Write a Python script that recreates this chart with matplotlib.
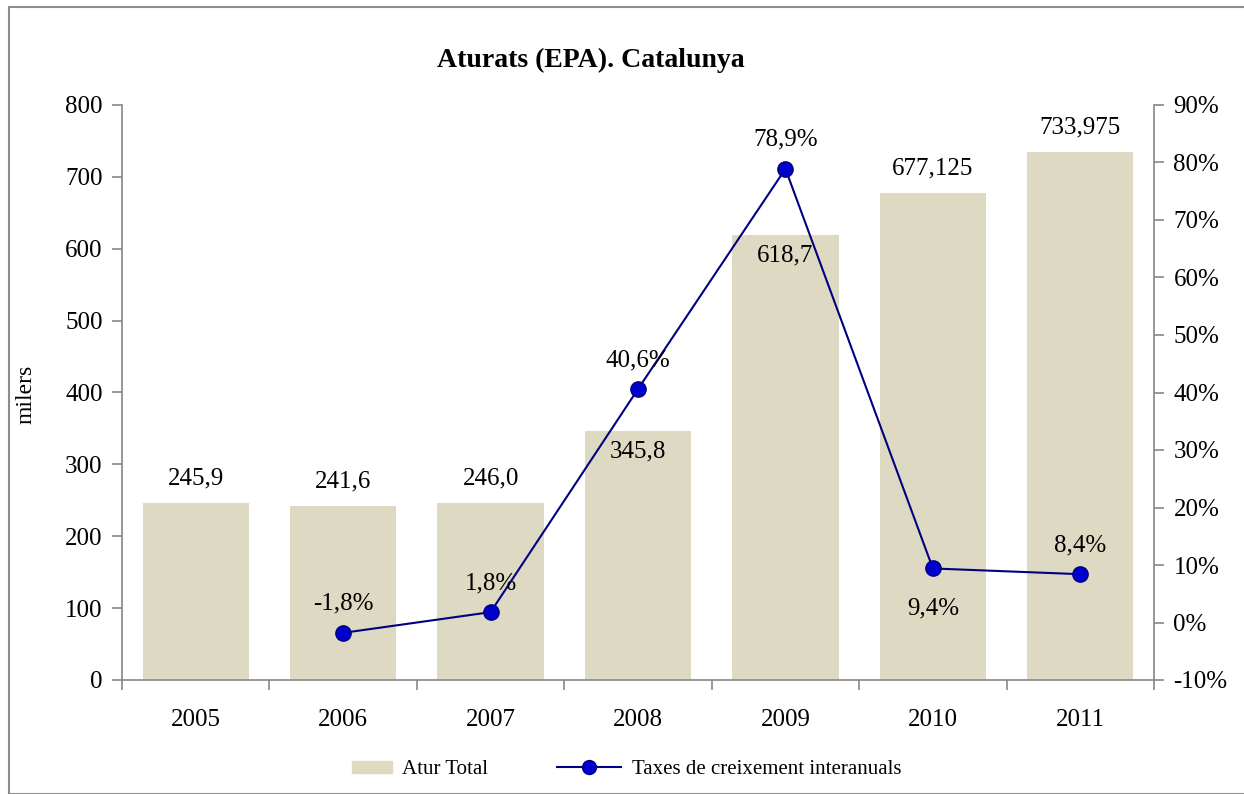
import matplotlib
matplotlib.use("Agg")
import matplotlib.pyplot as plt
from matplotlib.patches import Rectangle
from matplotlib.lines import Line2D
from matplotlib.legend_handler import HandlerPatch
import numpy as np

plt.rcParams['font.family'] = ['Liberation Serif', 'DejaVu Serif']

years = ['2005', '2006', '2007', '2008', '2009', '2010', '2011']
atur_total = [245.9, 241.6, 246.0, 345.8, 618.7, 677.125, 733.975]
atur_labels = ['245,9', '241,6', '246,0', '345,8', '618,7', '677,125', '733,975']
taxes = [None, -1.8, 1.8, 40.6, 78.9, 9.4, 8.4]
taxes_labels = ['', '-1,8%', '1,8%', '40,6%', '78,9%', '9,4%', '8,4%']
left_ticks = [0, 100, 200, 300, 400, 500, 600, 700, 800]
right_ticks = [-10, 0, 10, 20, 30, 40, 50, 60, 70, 80, 90]

bar_color = '#DDD9C3'
line_color = '#000080'
marker_color = '#0000CC'
axis_color = '#888888'
FS = 18

fig = plt.figure(figsize=(12.44, 7.94), dpi=100)
fig.patches.append(Rectangle((9/1244, 0), 1.2, 1 - 7/794, transform=fig.transFigure,
                             fill=False, edgecolor='#8C8C8C', linewidth=1.5))
ax = fig.add_axes([122/1244, 1 - 680/794, 1032/1244, 575/794])
x = np.arange(len(years))
ax.bar(x, atur_total, width=0.72, color=bar_color, zorder=2)
ax.set_xlim(-0.5, len(years) - 0.5)
ax.set_ylim(0, 800)
ax.set_yticks(left_ticks)
ax.set_yticklabels([str(v) for v in left_ticks])
ax.set_xticks(x)
ax.set_xticklabels(years)
ax.set_xticks(np.arange(len(years) + 1) - 0.5, minor=True)
ax.tick_params(axis='x', which='major', length=0, pad=21, labelsize=FS)
ax.tick_params(axis='x', which='minor', length=7, color=axis_color, width=1.2)
ax.tick_params(axis='y', length=7, color=axis_color, width=1.2, labelsize=FS, pad=7)
for s in ['top', 'right']:
    ax.spines[s].set_visible(False)
for s in ['left', 'bottom']:
    ax.spines[s].set_color(axis_color)
    ax.spines[s].set_linewidth(1.2)
ax.set_ylabel('milers', fontsize=17)
ax.yaxis.set_label_coords(37/1244, 1 - 394/794, transform=fig.transFigure)

for i, (v, lab) in enumerate(zip(atur_total, atur_labels)):
    off = -20 if years[i] in ('2008', '2009') else 25
    ax.annotate(lab, (i, v), xytext=(0, off), textcoords='offset pixels',
                ha='center', va='center', fontsize=FS, zorder=5)

ax2 = ax.twinx()
ax2.set_ylim(-10, 90)
ax2.set_yticks(right_ticks)
ax2.set_yticklabels([f'{v}%' for v in right_ticks])
ax2.tick_params(axis='y', length=7, color=axis_color, width=1.2, labelsize=FS, pad=7)
for s in ['top', 'left', 'bottom']:
    ax2.spines[s].set_visible(False)
ax2.spines['right'].set_color(axis_color)
ax2.spines['right'].set_linewidth(1.2)

xs = [i for i, t in enumerate(taxes) if t is not None]
ys = [t for t in taxes if t is not None]
ax2.plot(xs, ys, color=line_color, linewidth=1.5, marker='o', markersize=11,
         markerfacecolor=marker_color, markeredgecolor=line_color, zorder=4)
for i in xs:
    off = -40 if years[i] == '2010' else 29
    ax2.annotate(taxes_labels[i], (i, taxes[i]), xytext=(0, off), textcoords='offset pixels',
                 ha='center', va='center', fontsize=FS, zorder=5)

fig.text(591/1244, 1 - 60/794, 'Aturats (EPA). Catalunya', ha='center', va='center',
         fontsize=20, fontweight='bold')


def small_patch(legend, orig_handle, xdescent, ydescent, width, height, fontsize):
    w = 40 * 0.72
    h = 12 * 0.72
    return Rectangle((-xdescent + width - w, -ydescent + (height - h) / 2), w, h)


patch_handle = Rectangle((0, 0), 1, 1, color=bar_color)
line_handle = Line2D([], [], color=line_color, linewidth=1.5, marker='o', markersize=10,
                     markerfacecolor=marker_color, markeredgecolor=line_color)
fig.legend([patch_handle, line_handle], ['Atur Total', 'Taxes de creixement interanuals'],
           ncol=2, loc='center left', bbox_to_anchor=(327/1244, 1 - 769/794),
           frameon=False, fontsize=15, columnspacing=3.3, handlelength=3.1,
           handletextpad=0.5, borderpad=0, borderaxespad=0,
           handler_map={Rectangle: HandlerPatch(patch_func=small_patch)})

fig.savefig('out.png', dpi=100)
